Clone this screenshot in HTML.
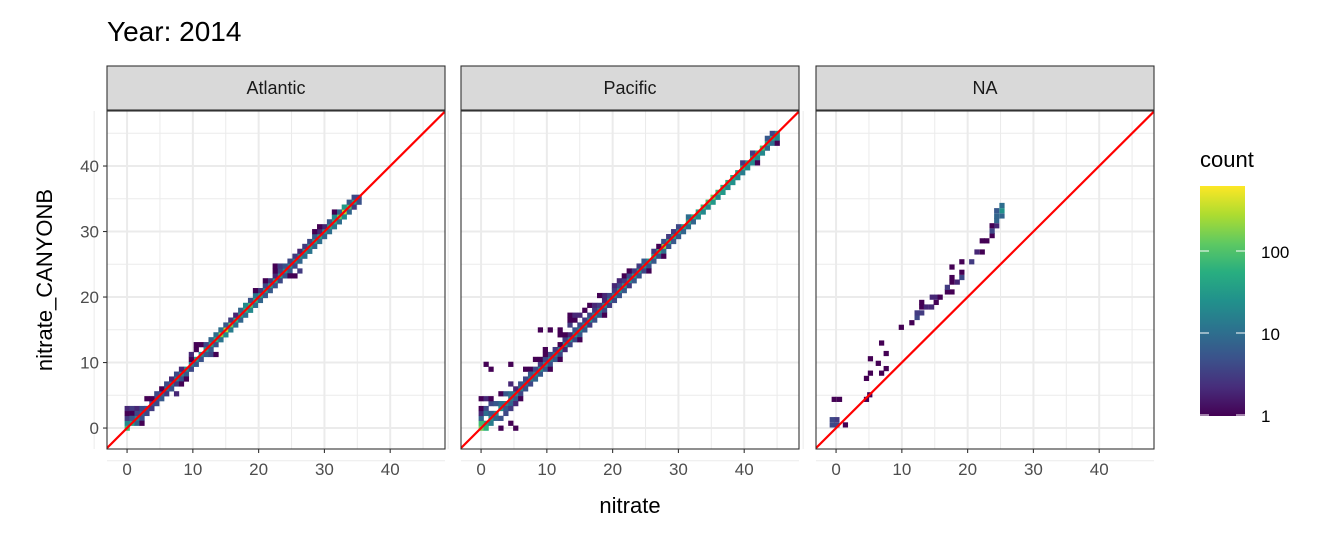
<!DOCTYPE html>
<html><head><meta charset="utf-8">
<style>
html,body{margin:0;padding:0;background:#fff;}
svg{display:block;font-family:"Liberation Sans",Arial,sans-serif;}
</style></head>
<body>
<svg id="chart" width="1344" height="537" viewBox="0 0 1344 537" xmlns="http://www.w3.org/2000/svg">
  <defs>
    <linearGradient id="vir" x1="0" y1="1" x2="0" y2="0">
      <stop offset="0" stop-color="#440154"/>
      <stop offset="0.125" stop-color="#472d7b"/>
      <stop offset="0.25" stop-color="#3b528b"/>
      <stop offset="0.375" stop-color="#2c728e"/>
      <stop offset="0.5" stop-color="#21918c"/>
      <stop offset="0.625" stop-color="#28ae80"/>
      <stop offset="0.75" stop-color="#5ec962"/>
      <stop offset="0.875" stop-color="#addc30"/>
      <stop offset="1" stop-color="#fde725"/>
    </linearGradient>
  </defs>
  <text x="107" y="41" font-size="28" fill="#000">Year: 2014</text>
  <g id="panels"></g>
  <text x="353" y="513" font-size="22" fill="#000" transform="translate(277,0)" text-anchor="middle">nitrate</text>
  <text transform="translate(52,280) rotate(-90)" font-size="22" fill="#000" text-anchor="middle">nitrate_CANYONB</text>
  <g>
    <text x="1200" y="167" font-size="22" fill="#000">count</text>
    <rect x="1200" y="186" width="45" height="230" fill="url(#vir)"/>
    <g id="legticks"></g>
  </g>
</svg>
<script>
// ---- data (bin centres in data units, counts) ----
const panelNames = ["Atlantic", "Pacific", "NA"];
const xTickLabels = [0, 10, 20, 30, 40];
const yTickLabels = [0, 10, 20, 30, 40];
const legendBreaks = [1, 10, 100];
const binWidth = 0.75;

const atlanticCells = [
 [0,0,80],[0.75,0.75,40],[1.5,1.5,20],[2.25,2.25,8],[3,3,6],[3.75,3.75,5],[4.5,4.5,5],[5.25,5.25,8],[6,6,10],[6.75,6.75,12],
 [7.5,7.5,15],[8.25,8.25,20],[9,9,25],[9.75,9.75,20],[10.5,10.5,30],[11.25,11.25,25],[12,12,30],[12.75,12.75,40],[13.5,13.5,60],
 [14.25,14.25,200],[15,15,300],[15.75,15.75,150],[16.5,16.5,60],[17.25,17.25,40],[18,18,60],[18.75,18.75,100],[19.5,19.5,60],
 [20.25,20.25,40],[21,21,30],[21.75,21.75,30],[22.5,22.5,40],[23.25,23.25,30],[24,24,25],[24.75,24.75,20],[25.5,25.5,20],
 [26.25,26.25,25],[27,27,30],[27.75,27.75,30],[28.5,28.5,40],[29.25,29.25,40],[30,30,30],[30.75,30.75,40],[31.5,31.5,60],
 [32.25,32.25,150],[33,33,300],[33.75,33.75,100],[34.5,34.5,40],
 [0,0.75,20],[0,1.5,3],[0,2.25,1],[0,3,2],[0.75,3,3],[1.5,3,2],[2.25,3,4],[3,3,5],[0.75,2.25,1],[0.75,1.5,6],[1.5,0.75,8],[1.5,2.25,4],
 [2.25,1.5,5],[2.25,0.75,1],[3,2.25,4],[3.75,3,3],[3,4.5,1],[4.5,3.75,4],[3.75,4.5,1],[4.5,5.25,4],[5.25,4.5,6],[6,5.25,3],
 [5.25,6,1],[6,6.75,4],[6.75,6,5],[7.5,6.75,3],[6.75,7.5,2],[7.5,5.25,2],[8.25,7.5,5],[7.5,8.25,4],[8.25,6.75,1],[9,8.25,6],
 [8.25,9,2],[9,7.5,1],[9.75,9,4],[9.75,10.5,1],[10.5,9.75,6],[9.75,11.25,2],[10.5,12,1],[10.5,12.75,1],[11.25,12.75,1],[11.25,10.5,5],
 [12,11.25,6],[12,12.75,4],[12.75,12,6],[12.75,11.25,4],[13.5,12.75,5],[13.5,11.25,1],[12.75,13.5,8],[13.5,14.25,10],[14.25,13.5,12],
 [15,14.25,20],[14.25,15,10],[15,15.75,6],[15.75,15,15],[15.75,16.5,3],[16.5,15.75,10],[16.5,17.25,2],[17.25,16.5,8],[17.25,18,8],
 [18,17.25,10],[18,18.75,20],[18.75,18,20],[19.5,18.75,10],[18.75,19.5,5],[19.5,20.25,12],[20.25,19.5,8],[21,20.25,6],[20.25,21,3],
 [19.5,21,1],[21,21.75,4],[21.75,21,6],[22.5,21.75,5],[21.75,22.5,3],[22.5,23.25,2],[21,22.5,1],[23.25,22.5,4],[24,23.25,5],
 [23.25,24,4],[22.5,24,1],[22.5,24.75,1],[23.25,24.75,3],[24,24.75,5],[24.75,24,6],[25.5,24.75,4],[24.75,25.5,4],[25.5,26.25,3],
 [24.75,23.25,1],[25.5,23.25,1],[26.25,24,3],[26.25,25.5,8],[27,26.25,10],[26.25,27,2],[27,27.75,3],[27.75,27,12],[28.5,27.75,8],
 [27.75,28.5,4],[28.5,29.25,6],[29.25,28.5,10],[30,29.25,8],[30,30.75,2],[30.75,30,10],[29.25,30,2],[28.5,30,1],[29.25,30.75,1],
 [30.75,31.5,6],[31.5,30.75,12],[32.25,31.5,10],[31.5,32.25,20],[32.25,33,8],[33,32.25,20],[33.75,33,8],[33,33.75,30],
 [31.5,33,1],[33.75,34.5,6],[34.5,35.25,4],[35.25,34.5,5],[34.5,33.75,3],[35.25,35.25,4]
];

const pacificCells = [
 [0,0,150],[0.75,0.75,40],[1.5,1.5,25],[2.25,2.25,20],[3,3,25],[3.75,3.75,20],[4.5,4.5,15],[5.25,5.25,20],[6,6,15],[6.75,6.75,10],
 [7.5,7.5,15],[8.25,8.25,20],[9,9,25],[9.75,9.75,20],[10.5,10.5,15],[11.25,11.25,15],[12,12,20],[12.75,12.75,25],[13.5,13.5,20],
 [14.25,14.25,25],[15,15,20],[15.75,15.75,20],[16.5,16.5,25],[17.25,17.25,20],[18,18,15],[18.75,18.75,25],[19.5,19.5,20],
 [20.25,20.25,20],[21,21,25],[21.75,21.75,30],[22.5,22.5,25],[23.25,23.25,30],[24,24,25],[24.75,24.75,20],[25.5,25.5,30],
 [26.25,26.25,40],[27,27,60],[27.75,27.75,200],[28.5,28.5,60],[29.25,29.25,40],[30,30,30],[30.75,30.75,40],[31.5,31.5,60],
 [32.25,32.25,60],[33,33,50],[33.75,33.75,80],[34.5,34.5,100],[35.25,35.25,150],[36,36,80],[36.75,36.75,60],[37.5,37.5,60],
 [38.25,38.25,50],[39,39,40],[39.75,39.75,60],[40.5,40.5,40],[41.25,41.25,40],[42,42,60],[42.75,42.75,100],[43.5,43.5,50],[44.25,44.25,40],[45,45,30],
 [0,0.75,80],[0.75,0,60],[0,1.5,8],[0,2.25,2],[0,3,1],[0,4.5,1],[0.75,4.5,2],[0.75,3,4],[0.75,2.25,10],[1.5,2.25,6],[1.5,0.75,15],
 [2.25,1.5,8],[3,1.5,5],[3,0,1],[5.25,0,1],[4.5,0.75,1],[1.5,3.75,4],[2.25,3.75,6],[3,3.75,10],[3.75,3,6],[4.5,3.75,8],[3.75,2.25,4],
 [4.5,3,3],[5.25,4.5,6],[5.25,3.75,2],[6,5.25,4],[6,4.5,1],[1.5,4.5,1],[3,5.25,1],[3.75,5.25,6],[4.5,6.75,2],[4.5,5.25,10],
 [5.25,6,2],[6.75,6,5],[7.5,6.75,4],[6,6.75,5],[6.75,7.5,4],[4.5,9.75,1],[0.75,9.75,1],[1.5,9,1],[6.75,9,1],[7.5,9,1],
 [7.5,8.25,6],[8.25,7.5,8],[9,8.25,6],[8.25,9,4],[9,9.75,3],[9.75,9,6],[8.25,10.5,1],[9,10.5,1],[10.5,9.75,5],[10.5,9,1],
 [9.75,10.5,4],[10.5,11.25,4],[11.25,10.5,6],[9.75,12,1],[9.75,11.25,1],[12,11.25,4],[11.25,12,3],[12,12.75,1],[12.75,12,2],
 [12,10.5,1],[13.5,12.75,4],[12.75,13.5,3],[14.25,13.5,4],[13.5,14.25,2],[12.75,14.25,1],[12,14.25,1],[12,15,1],[9,15,1],[10.5,15,1],
 [13.5,15.75,3],[14.25,15,5],[15,14.25,6],[15,15.75,4],[15.75,15,6],[15,13.5,1],[16.5,15.75,3],[15.75,16.5,3],[14.25,16.5,1],
 [13.5,16.5,1],[13.5,17.25,1],[14.25,17.25,2],[15,17.25,2],[16.5,17.25,4],[17.25,16.5,5],[18,17.25,6],[17.25,18,3],[15.75,18,1],
 [16.5,18.75,1],[17.25,18.75,2],[18,18.75,3],[18.75,18,4],[19.5,18.75,3],[18.75,19.5,2],[18.75,17.25,1],[19.5,20.25,4],
 [18.75,20.25,2],[18,20.25,1],[20.25,19.5,4],[20.25,21,3],[21,20.25,5],[21,21.75,4],[20.25,21.75,2],[21.75,21,6],[21.75,22.5,3],
 [21,22.5,2],[22.5,21.75,3],[21.75,23.25,1],[22.5,23.25,4],[23.25,22.5,6],[24,23.25,5],[24,24.75,3],[23.25,24,3],[22.5,24,1],
 [24.75,24,4],[24.75,25.5,6],[25.5,24.75,5],[25.5,24,1],[26.25,25.5,6],[27,26.25,5],[26.25,27,3],[27,27.75,1],[27.75,27,10],
 [28.5,27.75,5],[27.75,28.5,5],[29.25,28.5,6],[28.5,29.25,3],[27.75,26.25,1],[29.25,30,3],[30,29.25,6],[30.75,30,8],[30,30.75,4],
 [31.5,30.75,10],[32.25,31.5,8],[31.5,32.25,10],[33,32.25,20],[33.75,33,20],[34.5,33.75,20],[35.25,34.5,30],[36,35.25,20],
 [36.75,36,30],[37.5,36.75,20],[38.25,37.5,25],[39,38.25,20],[39.75,39,15],[40.5,39.75,20],[39.75,40.5,3],[41.25,40.5,20],
 [42,41.25,20],[41.25,42,3],[42.75,42,20],[43.5,42.75,10],[43.5,44.25,6],[44.25,43.5,10],[45,44.25,20],[44.25,45,4],[45,43.5,1],[42,40.5,1]
];

const naCells = [
 [0.1,0.5,4],[0.1,1.3,3],[-0.6,0.5,4],[-0.6,1.3,4],[1.4,0.5,1],[-0.3,4.4,1],[0.5,4.4,1],[4.6,4.4,1],[5.1,5.1,1],[4.6,7.6,1],
 [5.2,8.4,1],[6.9,8.4,1],[7.6,9.1,1],[6.4,9.9,1],[5.2,10.6,1],[7.6,11.4,1],[6.9,13.0,1],[9.9,15.4,1],[11.5,16.1,1],
 [12.3,16.9,4],[12.3,17.6,3],[13.0,17.6,3],[13.0,18.5,1],[13.7,18.5,2],[14.5,18.5,2],[13.0,19.2,1],[15.2,19.2,1],
 [14.6,20.0,2],[15.3,20.0,2],[15.8,20.0,1],[16.9,20.8,1],[17.6,20.8,1],[16.9,21.5,3],[17.6,22.3,1],[18.4,22.3,2],
 [17.6,23.0,1],[19.1,23.0,4],[19.1,23.8,1],[17.6,24.6,1],[19.1,25.4,1],[20.6,25.4,3],[21.4,26.9,2],[22.2,26.9,1],
 [22.2,28.6,1],[22.9,28.6,1],[23.7,29.4,1],[23.7,30.1,4],[23.7,30.9,1],[24.4,30.9,2],[24.4,31.7,8],[24.4,32.4,8],
 [25.2,32.4,8],[24.4,33.2,6],[25.2,33.2,25],[25.2,34.0,10]
];

// ---- layout ----
const NS = "http://www.w3.org/2000/svg";
const panelLeft = [107, 461, 816];
const panelW = 338, panelTop = 111, panelH = 338;
const xMin = -3.05, xMax = 48.33, yMin = -3.2, yMax = 48.4;
const cellSets = [atlanticCells, pacificCells, naCells];
const cMax = 620;

function xScale(p, v){ return panelLeft[p] + (v - xMin) / (xMax - xMin) * panelW; }
function yScale(v){ return panelTop + panelH - (v - yMin) / (yMax - yMin) * panelH; }

const vstops = ["#440154","#472d7b","#3b528b","#2c728e","#21918c","#28ae80","#5ec962","#addc30","#fde725"];
function hex(h){ return [parseInt(h.slice(1,3),16),parseInt(h.slice(3,5),16),parseInt(h.slice(5,7),16)]; }
function viridis(n){
  let t = Math.log(n) / Math.log(cMax); t = Math.max(0, Math.min(1, t));
  const f = t * 8, i = Math.min(7, Math.floor(f)), r = f - i;
  const a = hex(vstops[i]), b = hex(vstops[i+1]);
  return "rgb(" + a.map((c,k)=>Math.round(c + (b[k]-c)*r)).join(",") + ")";
}
function el(tag, attrs, parent){
  const e = document.createElementNS(NS, tag);
  for (const k in attrs) e.setAttribute(k, attrs[k]);
  parent.appendChild(e); return e;
}

const root = document.getElementById("panels");
for (let p = 0; p < 3; p++) {
  const L = panelLeft[p];
  const g = el("g", {}, root);
  
  
  // strip
  const strip = el("rect", {x: L, y: 66, width: panelW, height: 44, fill: "#d9d9d9", stroke: "#333", "stroke-width": 1.1}, g);
  
  
  const st = el("text", {x: L + panelW/2, y: 94, "font-size": 18, fill: "#1a1a1a", "text-anchor": "middle"}, g);
  st.textContent = panelNames[p];
  
  
  el("rect", {x: L, y: panelTop, width: panelW, height: panelH, fill: "#fff"}, g);
  // grid
  const minorT = [-5, 5, 15, 25, 35, 45];
  minorT.forEach(v => {
    el("line", {x1: xScale(p, v), x2: xScale(p, v), y1: panelTop, y2: panelTop+panelH, stroke: "#ebebeb", "stroke-width": 1}, g);
    el("line", {x1: L, x2: L+panelW, y1: yScale(v), y2: yScale(v), stroke: "#ebebeb", "stroke-width": 1}, g);
  });
  xTickLabels.forEach(v => {
    el("line", {x1: xScale(p, v), x2: xScale(p, v), y1: panelTop, y2: panelTop+panelH, stroke: "#ebebeb", "stroke-width": 2}, g);
  });
  yTickLabels.forEach(v => {
    el("line", {x1: L, x2: L+panelW, y1: yScale(v), y2: yScale(v), stroke: "#ebebeb", "stroke-width": 2}, g);
  });
  // cells
  const clip = "clip" + p;
  const cp = el("clipPath", {id: clip}, g);
  el("rect", {x: L, y: panelTop, width: panelW, height: panelH}, cp);
  const cg = el("g", {"clip-path": "url(#" + clip + ")"}, g);
  cellSets[p].forEach(c => {
    const x0 = xScale(p, c[0] - binWidth/2), x1 = xScale(p, c[0] + binWidth/2);
    const y0 = yScale(c[1] + binWidth/2), y1 = yScale(c[1] - binWidth/2);
    const r = el("rect", {x: x0.toFixed(2), y: y0.toFixed(2), width: (x1-x0+0.3).toFixed(2), height: (y1-y0+0.3).toFixed(2), fill: viridis(c[2])}, cg);
    
    
  });
  // identity line
  const ln = el("line", {x1: xScale(p, -10), y1: yScale(-10), x2: xScale(p, 60), y2: yScale(60), stroke: "#ff0000", "stroke-width": 2.2}, cg);
  
  
  const bd = el("rect", {x: L, y: panelTop, width: panelW, height: panelH, fill: "none", stroke: "#333", "stroke-width": 1.1}, g);
  
  
  // x ticks
  xTickLabels.forEach(v => {
    el("line", {x1: xScale(p, v), x2: xScale(p, v), y1: panelTop+panelH, y2: panelTop+panelH+4, stroke: "#333", "stroke-width": 1.1}, g);
    const t = el("text", {x: xScale(p, v), y: 475, "font-size": 17, fill: "#4d4d4d", "text-anchor": "middle"}, g);
    t.textContent = v;
    
    
  });
  if (p === 0) {
    yTickLabels.forEach(v => {
      el("line", {x1: L-4, x2: L, y1: yScale(v), y2: yScale(v), stroke: "#333", "stroke-width": 1.1}, g);
      const t = el("text", {x: L-8, y: yScale(v)+6, "font-size": 17, fill: "#4d4d4d", "text-anchor": "end"}, g);
      t.textContent = v;
      
      
    });
  }
}

// legend ticks
const lg = document.getElementById("legticks");
legendBreaks.forEach(b => {
  const y = 415 - Math.log10(b) * 82;
  el("line", {x1: 1200, x2: 1209, y1: y, y2: y, stroke: "#fff", "stroke-width": 1}, lg);
  el("line", {x1: 1236, x2: 1245, y1: y, y2: y, stroke: "#fff", "stroke-width": 1}, lg);
  const t = el("text", {x: 1261, y: y + 7, "font-size": 17, fill: "#000"}, lg);
  t.textContent = b;
  
  
});
</script>
</body></html>
